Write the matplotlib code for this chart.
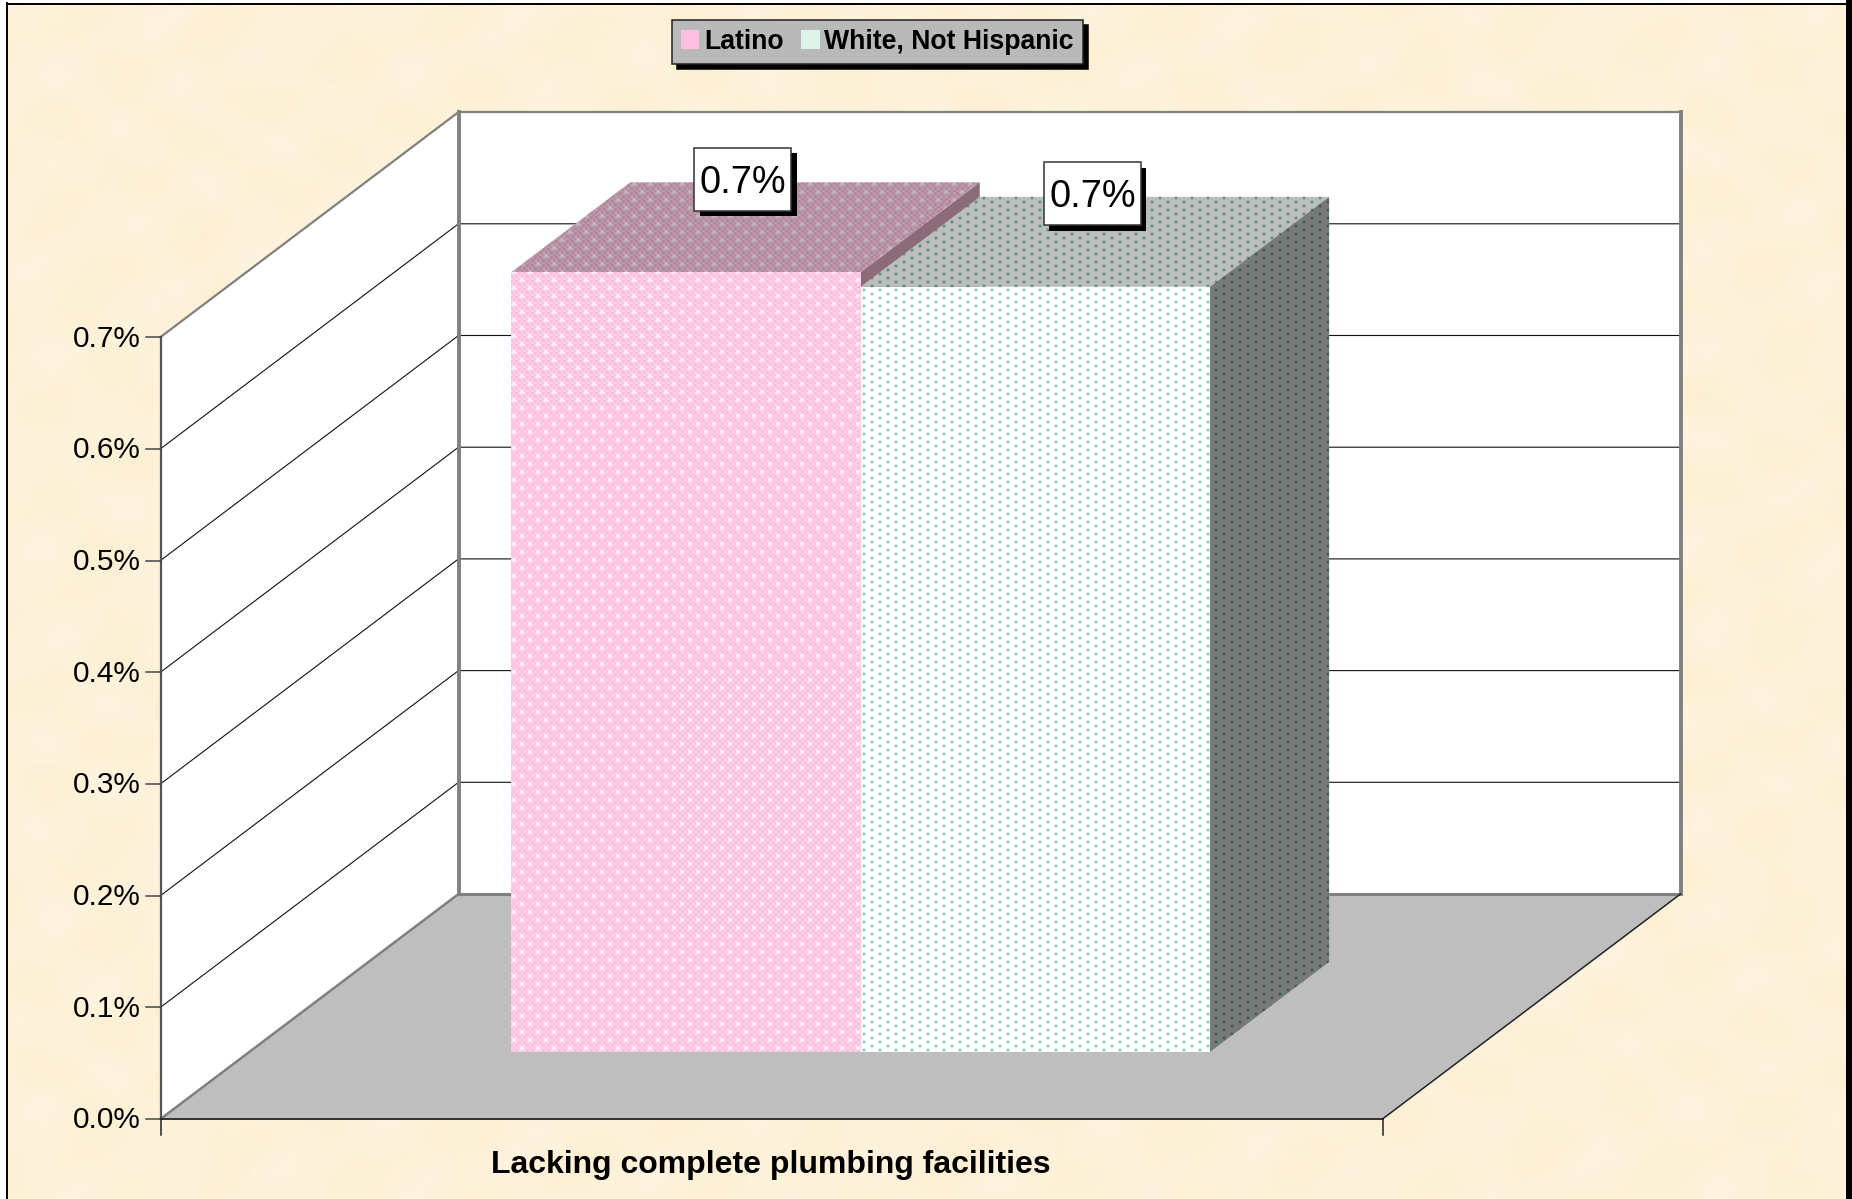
import numpy as np
import matplotlib
matplotlib.use("Agg")
import matplotlib.pyplot as plt
from matplotlib.patches import Polygon, Rectangle, Patch

plt.rcParams['font.family'] = ['Liberation Sans', 'DejaVu Sans']

# ---- data ----
series_names = ["Latino", "White, Not Hispanic"]
series_values = [0.698, 0.685]
value_labels = ["0.7%", "0.7%"]
category = "Lacking complete plumbing facilities"
tick_values = [0.0, 0.1, 0.2, 0.3, 0.4, 0.5, 0.6, 0.7]
tick_labels = ["0.0%", "0.1%", "0.2%", "0.3%", "0.4%", "0.5%", "0.6%", "0.7%"]

# ---- layout (pixels of the 1852x1199 picture) ----
W, H = 1852, 1199
X0, Y0 = 160.5, 1119.0     # front-left floor corner
PLOT_W = 1222.0            # width of the front edge
UNIT = 1117.0              # pixels per 1.0 (percent)
DX, DY = 298.0, -225.0     # screen offset from front to back
VMAX = 0.7
BAR_X = [0.2142, 0.5002, 0.7861]
BAR_D = (0.298, 0.698)


def proj(c, v, d):
    return (X0 + c * PLOT_W + d * DX, Y0 - v * UNIT + d * DY)


XX, YY = np.meshgrid(np.arange(W) + .5, np.arange(H) + .5)


def checker(period=5.34):
    return ((np.floor(XX / (period / 2)) + np.floor(YY / (period / 2))) % 2)


def dots_pink(sig=1.5):
    j = np.round((YY - 504) / 8)
    ox = 826 + 8 * (j % 2)
    dx = (XX - ox + 8) % 16 - 8
    dy = YY - (504 + 8 * j)
    return np.exp(-(dx ** 2 + dy ** 2) / (2 * sig ** 2))


def dots_green(sig=0.95):
    i = np.round((XX - 864) / 8)
    oy = 506 + 4 * (i % 2)
    dx = XX - (864 + 8 * i)
    dy = (YY - oy + 4) % 8 - 4
    return np.exp(-(dx ** 2 + dy ** 2) / (2 * sig ** 2))


def texture(c1, c2, dot_col, dots):
    ch = checker()[..., None]
    base = np.array(c1) * (1 - ch) + np.array(c2) * ch
    d = dots[..., None]
    return np.clip(base * (1 - d) + np.array(dot_col) * d, 0, 255).astype(np.uint8)


def parchment():
    # soft mottled paper, blocky as in the compressed original
    x = np.floor(XX / 7) * 7
    y = np.floor(YY / 7) * 7
    n = (np.sin(x / 13 + np.sin(y / 31) * 2.1) + np.sin(y / 11 + 1.3 + np.cos(x / 37) * 1.7)
         + .7 * np.sin((x + y) / 9 + np.sin(x / 17)) + .6 * np.sin((x - y) / 7 + np.cos(y / 19) * 2))
    m = np.sin(x / 19 - y / 23 + 2 * np.sin(y / 47)) + np.cos(y / 15 + x / 29)
    n = n / 3.3
    m = m / 2
    r = 253.5 + 1.0 * m - 0.5 * n
    g = 241.5 + 1.5 * m + 1.0 * n
    b = 217 + 5.0 * m + 3.0 * n
    return np.clip(np.dstack([r, g, b]), 0, 255).astype(np.uint8)


fig = plt.figure(figsize=(W / 100, H / 100), dpi=100, facecolor='white')
ax = fig.add_axes([0, 0, 1, 1])
ax.axis('off')

GRAY = '#808080'
# background and outer frame
ax.imshow(parchment(), extent=(0, W, H, 0), interpolation='nearest', zorder=0, aspect='auto')
ax.add_patch(Rectangle((0, 0), 7, H, fc='white', ec='none', zorder=0.5))
ax.add_patch(Rectangle((0, 0), W, 3, fc='white', ec='none', zorder=0.5))
ax.plot([7, 7], [3, H], color='black', lw=1.4, zorder=0.6)
ax.plot([7, W], [3.5, 3.5], color='black', lw=1.4, zorder=0.6)
ax.add_patch(Rectangle((1846, 0), 6, H, fc='black', ec='none', zorder=0.6))

# walls and floor
left_wall = [proj(0, 0, 0), proj(0, VMAX, 0), proj(0, VMAX, 1), proj(0, 0, 1)]
back_wall = [proj(0, 0, 1), proj(0, VMAX, 1), proj(1, VMAX, 1), proj(1, 0, 1)]
floor = [proj(0, 0, 0), proj(0, 0, 1), proj(1, 0, 1), proj(1, 0, 0)]
ax.add_patch(Polygon(left_wall, fc='white', ec='none', zorder=1))
ax.add_patch(Polygon(back_wall, fc='white', ec='none', zorder=1))
ax.add_patch(Polygon(floor, fc='#BEBEBE', ec='none', zorder=1))

# gridlines
for v in tick_values[1:-1]:
    a, b, c = proj(0, v, 0), proj(0, v, 1), proj(1, v, 1)
    ax.plot([a[0], b[0], c[0]], [a[1], b[1], c[1]], color='#111111', lw=0.8, zorder=2)


# wall edges
def edge(p, q, col=GRAY, lw=1.6, z=3):
    ax.plot([p[0], q[0]], [p[1], q[1]], color=col, lw=lw, zorder=z, solid_capstyle='projecting')


edge(proj(0, VMAX, 0), proj(0, VMAX, 1))
edge(proj(0, VMAX, 1), proj(1, VMAX, 1))
edge(proj(0, 0, 1), proj(0, VMAX, 1), lw=2.8)
edge(proj(1, 0, 1), proj(1, VMAX, 1), lw=2.8)
edge(proj(0, 0, 1), proj(1, 0, 1), lw=2.2)
edge(proj(0, 0, 0), proj(0, 0, 1), lw=1.8)
edge(proj(0, 0, 0), proj(0, VMAX, 0), col='#555555', lw=1.6)
edge(proj(0, 0, 0), proj(1, 0, 0), col='#222222', lw=1.3)
edge(proj(1, 0, 0), proj(1, 0, 1), col='#222222', lw=1.1)

# value axis ticks and labels
for v, lab in zip(tick_values, tick_labels):
    x, y = proj(0, v, 0)
    ax.plot([x - 15, x], [y, y], color='#444444', lw=1.1, zorder=3)
    ax.text(x - 20, y + 1.5, lab, ha='right', va='center', fontsize=21.4, color='black', zorder=6)
for c in (0, 1):
    x, y = proj(c, 0, 0)
    ax.plot([x, x], [y, y + 16], color='#222222', lw=1.1, zorder=3)
x, y = proj(0.5, 0, 0)
ax.text(x - 1, y + 46.5, category, ha='center', va='center', fontsize=23, fontweight='bold', zorder=6)

# bars, drawn back to front: left bar's side shows above the neighbour
pink_d, green_d = dots_pink(), dots_green()
faces = [
    (texture((255, 186, 222), (255, 212, 235), (255, 255, 255), pink_d),
     texture((176, 135, 155), (190, 152, 172), (196, 190, 193), pink_d),
     None),
    (texture((255, 255, 255), (255, 255, 255), (90, 190, 150), green_d),
     texture((190, 190, 190), (190, 190, 190), (50, 130, 105), green_d),
     texture((122, 122, 122), (122, 122, 122), (30, 90, 70), green_d)),
]


def textured(poly, img, z):
    im = ax.imshow(img, extent=(0, W, H, 0), interpolation='nearest', zorder=z, aspect='auto')
    clip = Polygon(poly, transform=ax.transData, fc='none', ec='none')
    ax.add_patch(clip)
    im.set_clip_path(clip)


for k, v in enumerate(series_values):
    c0, c1 = BAR_X[k], BAR_X[k + 1]
    d0, d1 = BAR_D
    z = 4 + k * 0.1
    front = [proj(c0, 0, d0), proj(c0, v, d0), proj(c1, v, d0), proj(c1, 0, d0)]
    top = [proj(c0, v, d0), proj(c0, v, d1), proj(c1, v, d1), proj(c1, v, d0)]
    side = [proj(c1, 0, d0), proj(c1, v, d0), proj(c1, v, d1), proj(c1, 0, d1)]
    f_img, t_img, s_img = faces[k]
    textured(top, t_img, z)
    if s_img is None:
        ax.add_patch(Polygon(side, fc='#8B6A79', ec='none', zorder=z - 0.05))
    else:
        textured(side, s_img, z)
    textured(front, f_img, z + 0.02)

# value labels
BOX_W, BOX_H, SH = 97.0, 63.0, 5.5
for k, (v, lab) in enumerate(zip(series_values, value_labels)):
    cx, cy = proj((BAR_X[k] + BAR_X[k + 1]) / 2, v, sum(BAR_D) / 2)
    cx -= 2.5
    cy -= 48
    ax.add_patch(Rectangle((cx - BOX_W / 2 + SH, cy - BOX_H / 2 + SH), BOX_W, BOX_H, fc='black', ec='none', zorder=7))
    ax.add_patch(Rectangle((cx - BOX_W / 2, cy - BOX_H / 2), BOX_W, BOX_H, fc='white', ec='#333333', lw=1.1, zorder=7.1))
    ax.text(cx, cy + 3.5, lab, ha='center', va='center', fontsize=27.3, zorder=7.2)

# legend
handles = [Patch(facecolor='#FFC0E0', edgecolor='none', label=series_names[0]),
           Patch(facecolor='#DDF3EA', edgecolor='none', label=series_names[1])]
leg = ax.legend(handles=handles, ncols=2, loc='upper left',
                bbox_to_anchor=(672 / W, 1 - 20 / H), bbox_transform=fig.transFigure,
                frameon=True, fancybox=False, framealpha=1, facecolor='#B9B9B9', edgecolor='#222222',
                shadow={'ox': 3.6, 'oy': -3.6, 'alpha': 1, 'color': 'black', 'shade': 0},
                prop={'weight': 'bold', 'size': 19.2},
                handlelength=0.70, handleheight=0.70, handletextpad=0.17,
                columnspacing=0.66, borderpad=0.33, borderaxespad=0)
leg.set_zorder(8)
leg.get_frame().set_linewidth(1.1)

ax.set_xlim(0, W)
ax.set_ylim(H, 0)
fig.savefig('out.png', dpi=100)
